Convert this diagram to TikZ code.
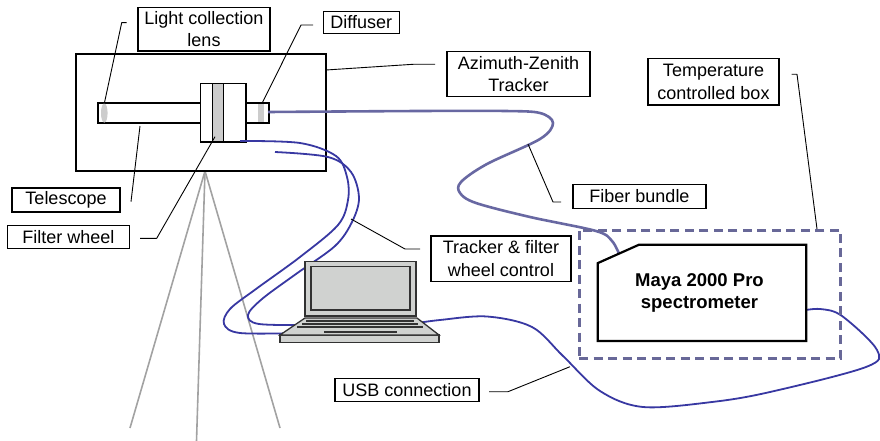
\documentclass[tikz,border=0pt]{standalone}
\usepackage{fontspec}
\setmainfont{Liberation Sans}
\definecolor{cablec}{RGB}{56,56,162}
\definecolor{fiberc}{RGB}{104,104,162}
\definecolor{boxc}{RGB}{104,104,152}
\definecolor{legc}{RGB}{162,162,162}
\definecolor{partgray}{RGB}{204,204,204}
\definecolor{laptopc}{RGB}{208,210,208}
\definecolor{laptopedge}{RGB}{50,50,50}
\begin{document}
\begin{tikzpicture}[x=1pt,y=-1pt,
  lbl/.style={draw, line width=1.1pt, fill=white, align=center, inner sep=0pt,
    font=\fontsize{18}{22.5}\selectfont},
  lead/.style={line width=0.9pt, line join=round},
  part/.style={draw, line width=1.2pt, fill=white, inner sep=0pt},
  cable/.style={cablec, line width=1.8pt},
  fiber/.style={fiberc, line width=2.6pt},
  leg/.style={legc, line width=1.6pt},
  lap/.style={draw=laptopedge, line width=1.3pt, fill=laptopc}]
\useasboundingbox (0,0) rectangle (880,441);

% tripod
\coordinate (apex) at (205,171);
\coordinate (legL) at (130,428);
\coordinate (legM) at (196.5,441);
\coordinate (legR) at (280,428);
\draw[leg] (apex) -- (legL);
\draw[leg] (apex) -- (legM);
\draw[leg] (apex) -- (legR);

% azimuth-zenith tracker with telescope, filter wheel and diffuser
\node[part, minimum width=250pt, minimum height=117pt] (tracker) at (201,112.5) {};
\node[part, minimum width=171pt, minimum height=20pt] (tube) at (183.5,113) {};
\fill[partgray] (104.3,113) ellipse (3.3 and 9.6);
\fill[partgray] (258.3,103.6) rectangle (264.2,122.4);
\node[part, minimum width=45.3pt, minimum height=58.7pt] (fw) at (223.3,112.7) {};
\draw[line width=1.2pt, fill=partgray] (212.3,83.3) rectangle (223.3,142);
\coordinate (lens) at (104.3,103.5);
\coordinate (diff) at (262,103.5);
\coordinate (fwstrip) at (215,136.7);

% fiber bundle to the spectrometer
\coordinate (fibA) at (268,112);
\coordinate (fibB) at (620,256);
\draw[fiber] plot[smooth, tension=0.55] coordinates {(fibA) (420,111) (505,111) (540,113)
  (553,123) (540,139) (487,164) (461,182) (460,193) (476,203) (530,217) (596,231)
  (612,241) (fibB)};

% tracker and filter wheel control cables
\coordinate (cabA) at (240,141);
\coordinate (cabB) at (275,152);
\coordinate (lapA) at (300,333);
\coordinate (lapB) at (312,325);
\draw[cable] plot[smooth, tension=0.55] coordinates {(cabA) (300,143) (336,156) (347,177)
  (348,200) (338,225) (300,257) (256,289) (230,309) (224,324) (240,333) (lapA)};
\draw[cable] plot[smooth, tension=0.55] coordinates {(cabB) (328,157) (351,172) (359,198)
  (352,222) (335,246) (296,274) (262,299) (248,315) (259,324) (lapB)};

% USB cable from the laptop to the spectrometer
\coordinate (usbA) at (414,323.5);
\coordinate (usbB) at (800,311);
\draw[cable] plot[smooth, tension=0.55] coordinates {(usbA) (440,320) (487,316.5) (532,327)
  (563,356) (600,391) (643,407) (712,402) (770,392) (866,367) (877,350) (842,316)
  (820,309) (usbB)};

% laptop
\draw[lap] (305,261.7) rectangle (416,316);
\draw[line width=1.3pt, draw=laptopedge] (311,266.7) rectangle (410,310);
\draw[lap] (280,335) rectangle (439,342.7);
\draw[lap] (280,335) -- (305,318) -- (417,318) -- (439,335) -- cycle;
\foreach \yy/\xl/\xr in {320.8/306/414, 324/302/418, 327.2/297/423}
  \draw[laptopedge, line width=1.6pt] (\xl,\yy) -- (\xr,\yy);
\fill[laptopedge] (324,331) rectangle (397,333.3);

% temperature controlled box and spectrometer
\node[draw=boxc, line width=3pt, dash pattern=on 9pt off 5.5pt,
  minimum width=261.7pt, minimum height=128pt] (tbox) at (709.9,294) {};
\node[minimum width=208pt, minimum height=95.7pt, inner sep=0pt] (spec) at (702,292.85) {};
\draw[line width=2.2pt, fill=white, line join=miter]
  ([yshift=-18.3pt]spec.north west) -- ([xshift=41pt]spec.north west) -- (spec.north east)
  -- (spec.south east) -- (spec.south west) -- cycle;
\node[align=center, font=\fontsize{18.5}{21.7}\selectfont\bfseries] (spectext) at (699.5,293)
  {Maya 2000 Pro\\spectrometer};

% labels
\node[lbl, minimum width=132pt, minimum height=43.7pt] (lensL) at (204,29.2) {Light collection\\lens};
\node[lbl, minimum width=75.7pt, minimum height=21.7pt] (diffL) at (361.2,22.5) {Diffuser};
\node[lbl, minimum width=143pt, minimum height=45pt] (trackL) at (518.5,74.2) {Azimuth-Zenith\\Tracker};
\node[lbl, minimum width=131pt, minimum height=46.7pt] (tempL) at (713.5,81.7) {Temperature\\controlled box};
\node[lbl, minimum width=133pt, minimum height=24pt] (fibL) at (639.5,196.3) {Fiber bundle};
\node[lbl, minimum width=140pt, minimum height=45.7pt] (ctrlL) at (501,258.8) {Tracker \& filter\\wheel control};
\node[lbl, minimum width=144pt, minimum height=23.7pt] (usbL) at (407,390) {USB connection};
\node[lbl, minimum width=108pt, minimum height=24pt] (telL) at (66,200) {Telescope};
\node[lbl, minimum width=122pt, minimum height=23.3pt] (fwL) at (68.3,236.7) {Filter wheel};

% leader lines
\coordinate (lensE) at (126.7,22.7);
\coordinate (diffE) at (313,25);
\coordinate (trackE) at (435,64.3);
\coordinate (tempE) at (791.7,74.3);
\coordinate (fibE) at (561,202);
\coordinate (ctrlE) at (420,249);
\coordinate (usbE) at (489,391.7);
\coordinate (telE) at (131,201.7);
\coordinate (fwE) at (140,238.3);
\draw[lead] (lens) -- (121.7,22.7) -- (lensE);
\draw[lead] (diff) -- (301,25) -- (diffE);
\draw[lead] (326,70) -- (413,64.3) -- (trackE);
\draw[lead] (tempE) -- (797,74.3) -- (817,229);
\draw[lead] (528,144) -- (553,202) -- (fibE);
\draw[lead] (351,219) -- (405,249) -- (ctrlE);
\draw[lead] (usbE) -- (508,391.7) -- (570,366.7);
\draw[lead] (140,126) -- (telE);
\draw[lead] (fwstrip) -- (156.7,238.3) -- (fwE);
\end{tikzpicture}
\end{document}
